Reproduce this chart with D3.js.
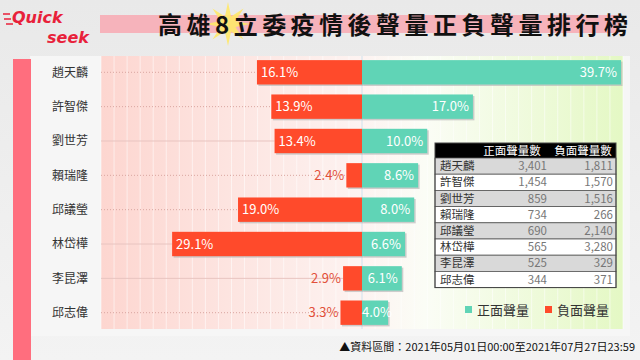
<!DOCTYPE html>
<html><head><meta charset="utf-8">
<script src="https://cdn.jsdelivr.net/npm/d3@7/dist/d3.min.js"></script>
<style>
html,body{margin:0;padding:0;background:#efefef;}
svg{display:block;font-family:"Noto Sans CJK TC","Noto Sans",sans-serif;}
</style></head>
<body>
<svg id="c" width="640" height="360"></svg>
<script>
const names = ['趙天麟','許智傑','劉世芳','賴瑞隆','邱議瑩','林岱樺','李昆澤','邱志偉'];
const positive = [39.7,17.0,10.0,8.6,8.0,6.6,6.1,4.0];
const negative = [16.1,13.9,13.4,2.4,19.0,29.1,2.9,3.3];
const posCount = [3401,1454,859,734,690,565,525,344];
const negCount = [1811,1570,1516,266,2140,3280,329,371];
const tableHeaders = ['正面聲量數','負面聲量數'];
const legendLabels = ['正面聲量','負面聲量'];
const title = '高雄8立委疫情後聲量正負聲量排行榜';
const footer = '▲資料區間：2021年05月01日00:00至2021年07月27日23:59';
const solidRows = ['劉世芳','林岱樺','李昆澤'];

const RED = '#ff4a2b', TEAL = '#60d4b6';
const svg = d3.select('#c');
const defs = svg.append('defs');

// page background
const bgGrad = defs.append('linearGradient').attr('id','pg').attr('x1',0).attr('y1',0).attr('x2',0).attr('y2',1);
bgGrad.append('stop').attr('offset','0%').attr('stop-color','#e9e9e9');
bgGrad.append('stop').attr('offset','100%').attr('stop-color','#f3f3f3');
svg.append('rect').attr('width',640).attr('height',360).attr('fill','url(#pg)');

// panel
svg.append('rect').attr('x',30).attr('y',56).attr('width',600).attr('height',280).attr('fill','#f6f6f6');
// left pink strip
svg.append('rect').attr('x',13).attr('y',59).attr('width',18).attr('height',301).attr('fill','#ff6e7e');

// plot gradient
const plotX0 = 101, plotX1 = 623, plotY0 = 56, plotY1 = 329;
const g1 = defs.append('linearGradient').attr('id','plotg').attr('x1',0).attr('x2',1).attr('y1',0).attr('y2',0);
g1.append('stop').attr('offset','0%').attr('stop-color','#fdd6d0');
g1.append('stop').attr('offset','50%').attr('stop-color','#fdf3f1');
g1.append('stop').attr('offset','62%').attr('stop-color','#fbfdf6');
g1.append('stop').attr('offset','100%').attr('stop-color','#e4f8c4');
svg.append('rect').attr('x',plotX0).attr('y',plotY0).attr('width',plotX1-plotX0).attr('height',plotY1-plotY0).attr('fill','url(#plotg)');

const x = d3.scaleLinear().domain([-40,40]).range([plotX0,plotX1]);
const y = d3.scaleBand().domain(names).range([plotY0,plotY1+0]).paddingInner(0.29).paddingOuter(0.12);

// stripes
svg.append('g').selectAll('line').data(x.ticks(40)).join('line')
  .attr('x1',d=>x(d)).attr('x2',d=>x(d)).attr('y1',plotY0).attr('y2',plotY1)
  .attr('stroke','#ffffff').attr('stroke-opacity',0.55).attr('stroke-width',1);

// row guide lines
svg.append('g').selectAll('line').data(names).join('line')
  .attr('x1',plotX0).attr('x2',(d,i)=>x(-negative[i]))
  .attr('y1',d=>y(d)+y.bandwidth()/2).attr('y2',d=>y(d)+y.bandwidth()/2)
  .attr('stroke',d=>solidRows.includes(d)?'#e8c4c0':'#d9a6a0')
  .attr('stroke-width',1)
  .attr('stroke-dasharray',d=>solidRows.includes(d)?null:'1,2');

// center line
svg.append('line').attr('x1',x(0)).attr('x2',x(0)).attr('y1',plotY0).attr('y2',plotY1)
  .attr('stroke','#cfe0ea').attr('stroke-width',1);

// bars with shadows
const bars = svg.append('g');
names.forEach((n,i)=>{
  const yy = y(n), h = y.bandwidth();
  bars.append('rect').attr('x',x(-negative[i])+1.5).attr('y',yy+1.5).attr('width',x(0)-x(-negative[i])).attr('height',h).attr('fill','#b9b9b9').attr('opacity',0.7);
  bars.append('rect').attr('x',x(0)+1.5).attr('y',yy+1.5).attr('width',x(positive[i])-x(0)).attr('height',h).attr('fill','#b9b9b9').attr('opacity',0.7);
  bars.append('rect').attr('x',x(-negative[i])).attr('y',yy).attr('width',x(0)-x(-negative[i])).attr('height',h).attr('fill',RED);
  bars.append('rect').attr('x',x(0)).attr('y',yy).attr('width',x(positive[i])-x(0)).attr('height',h).attr('fill',TEAL);
});

// labels
const lab = svg.append('g').attr('font-size',13);
names.forEach((n,i)=>{
  const cy = y(n)+y.bandwidth()/2;
  const nw = x(0)-x(-negative[i]);
  if (nw > 40) {
    lab.append('text').attr('x',x(-negative[i])+4).attr('y',cy).attr('dy','0.36em')
      .attr('fill','#fff').text(negative[i].toFixed(1)+'%');
  } else {
    lab.append('text').attr('x',x(-negative[i])-2).attr('y',cy).attr('dy','0.36em')
      .attr('text-anchor','end').attr('fill','#e2503a').text(negative[i].toFixed(1)+'%');
  }
  lab.append('text').attr('x',Math.max(x(positive[i])-4, x(0)+30)).attr('y',cy).attr('dy','0.36em')
    .attr('text-anchor','end').attr('fill','#fff').text(positive[i].toFixed(1)+'%');
  lab.append('text').attr('x',52).attr('y',cy).attr('dy','0.36em').attr('font-size',12)
    .attr('fill','#333').text(n);
});

// table
const tX = 435, tW = 181, tY = 143, hH = 15, rH = 16.2;
const tg = svg.append('g').attr('font-size',11.5);
tg.append('rect').attr('x',tX).attr('y',tY).attr('width',tW).attr('height',hH).attr('fill','#000');
tg.append('text').attr('x',512).attr('y',tY+hH/2).attr('dy','0.36em').attr('text-anchor','middle').attr('fill','#fff').text(tableHeaders[0]);
tg.append('text').attr('x',583).attr('y',tY+hH/2).attr('dy','0.36em').attr('text-anchor','middle').attr('fill','#fff').text(tableHeaders[1]);
names.forEach((n,i)=>{
  const ry = tY+hH+i*rH;
  tg.append('rect').attr('x',tX).attr('y',ry).attr('width',tW).attr('height',rH)
    .attr('fill',i%2===0?'#d9d9d9':'#ffffff').attr('stroke','#555').attr('stroke-width',0.8);
  tg.append('text').attr('x',tX+5).attr('y',ry+rH/2).attr('dy','0.36em').attr('fill','#333').text(n);
  tg.append('text').attr('x',547).attr('y',ry+rH/2).attr('dy','0.36em').attr('text-anchor','end').attr('fill','#777').text(d3.format(',')(posCount[i]));
  tg.append('text').attr('x',613).attr('y',ry+rH/2).attr('dy','0.36em').attr('text-anchor','end').attr('fill','#777').text(d3.format(',')(negCount[i]));
});
tg.append('rect').attr('x',tX).attr('y',tY).attr('width',tW).attr('height',hH+8*rH).attr('fill','none').attr('stroke','#444').attr('stroke-width',1);

// legend
const lg = svg.append('g').attr('font-size',13).attr('fill','#333');
[[465,TEAL,legendLabels[0]],[545,RED,legendLabels[1]]].forEach(([lx,c,t])=>{
  lg.append('rect').attr('x',lx).attr('y',306).attr('width',7).attr('height',7).attr('fill',c);
  lg.append('text').attr('x',lx+12).attr('y',310).attr('dy','0.36em').text(t);
});

// footer
svg.append('text').attr('x',635).attr('y',347).attr('dy','0.36em').attr('text-anchor','end')
  .attr('font-size',11).attr('fill','#111').text(footer);

// title band
svg.append('rect').attr('x',100).attr('y',15).attr('width',520).attr('height',18).attr('fill','#f6b3bb');
const star = d3.range(16).map(k=>{const a=k*Math.PI/8 - Math.PI/2; const r = k%2===0?22:8; return [228+r*Math.cos(a), 24+r*Math.sin(a)];});
svg.append('path').attr('d',d3.line()(star)+'Z').attr('fill','#ffe86a').attr('opacity',0.9);
svg.append('text').attr('x',158).attr('y',25).attr('dy','0.36em').attr('font-size',24).attr('font-weight','bold')
  .attr('fill','#111').attr('textLength',470).text(title);

// logo
const logo = svg.append('g').attr('fill','#e8213a').attr('font-family','"DejaVu Sans",sans-serif').attr('font-weight','bold').attr('font-style','italic');
logo.append('text').attr('x',12).attr('y',23).attr('font-size',16).text('Quick');
logo.append('text').attr('x',47).attr('y',43).attr('font-size',16).text('seek');
[[3,14],[4,19],[6,24]].forEach(([a,b])=>logo.append('line').attr('x1',a).attr('x2',a+7).attr('y1',b).attr('y2',b).attr('stroke','#e8213a').attr('stroke-width',1.5));
</script>
</body></html>
